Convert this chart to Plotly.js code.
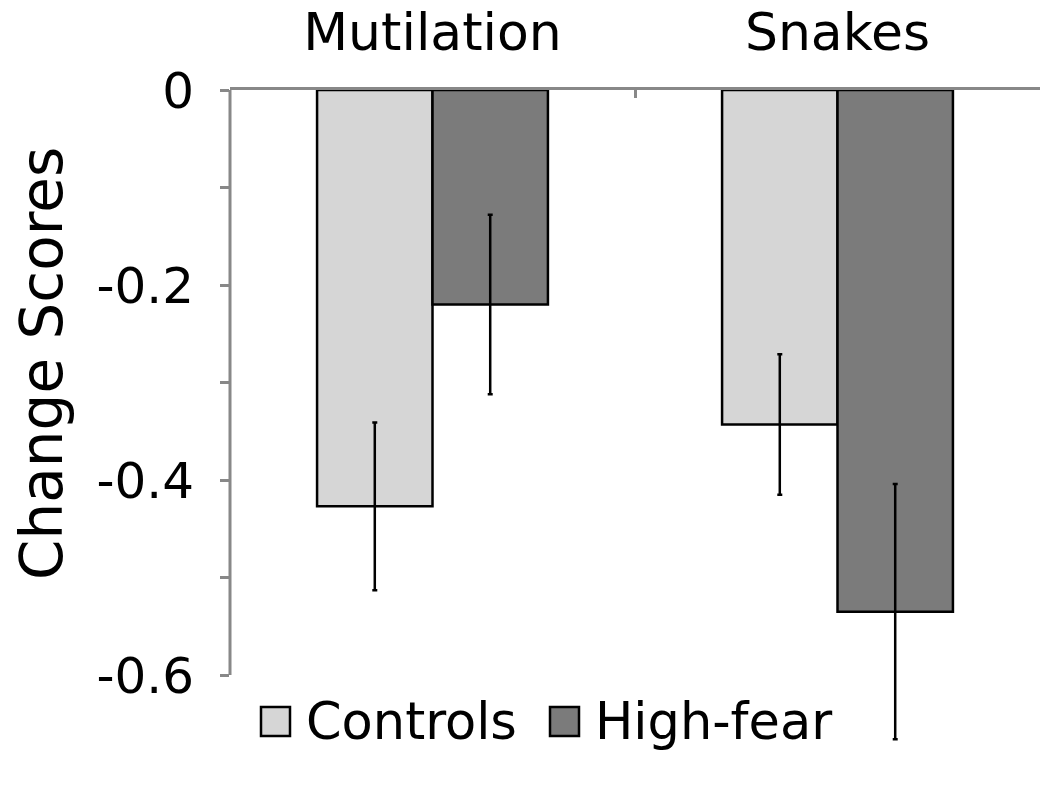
<!DOCTYPE html>
<html>
<head>
<meta charset="utf-8">
<script src="https://cdn.plot.ly/plotly-3.0.1.min.js"></script>
<style>html,body{margin:0;padding:0;background:#fff;}#chart{width:1050px;height:790px;}</style>
</head>
<body>
<div id="chart"></div>
<script>
const categories = ['Mutilation', 'Snakes'];
const seriesNames = ['Controls', 'High-fear'];
const controlsValues = [-0.427, -0.343];
const highFearValues = [-0.220, -0.535];
const controlsErrors = [0.086, 0.072];
const highFearErrors = [0.092, 0.131];
const yTickValues = [0, -0.1, -0.2, -0.3, -0.4, -0.5, -0.6];
const yTickLabels = ['0', '', '-0.2', '', '-0.4', '', '-0.6'];
const yTitle = 'Change Scores';
const seriesColors = ['#d6d6d6', '#7b7b7b'];

const W = 1050, H = 790;
const M = {l: 230, r: 10, t: 90, b: 37};
const axisGray = '#888888';
const FONT = 'DejaVu Sans, sans-serif';

function px2paperX(px) { return (px - M.l) / (W - M.l - M.r); }
function px2paperY(py) { return (H - M.b - py) / (H - M.t - M.b); }

function barTrace(name, vals, errs, color) {
  return {
    type: 'bar', name: name, x: categories, y: vals,
    marker: {color: color, line: {color: '#000', width: 2.5}},
    error_y: {type: 'data', array: errs, visible: true, color: '#000', thickness: 2.5, width: 2.5},
    showlegend: false
  };
}

const data = [
  barTrace(seriesNames[0], controlsValues, controlsErrors, seriesColors[0]),
  barTrace(seriesNames[1], highFearValues, highFearErrors, seriesColors[1])
];

// manual legend
const legendSquares = [[261, 290], [550, 579]];
const legendTextX = [304, 593];
const shapes = [
  {type: 'line', xref: 'paper', yref: 'y', x0: 0, x1: 0, y0: 0, y1: -0.6,
   line: {color: axisGray, width: 3}, layer: 'above'}
];
const annotations = [];
seriesNames.forEach((n, i) => {
  shapes.push({type: 'rect', xref: 'paper', yref: 'paper',
    x0: px2paperX(legendSquares[i][0]), x1: px2paperX(legendSquares[i][1]),
    y0: px2paperY(736), y1: px2paperY(707),
    fillcolor: seriesColors[i], line: {color: '#000', width: 2.5}});
  annotations.push({xref: 'paper', yref: 'paper', x: px2paperX(legendTextX[i]), y: px2paperY(721),
    xanchor: 'left', yanchor: 'middle', showarrow: false, text: n,
    font: {family: FONT, size: 51, color: '#000'}});
});
annotations.push({xref: 'paper', yref: 'paper', x: px2paperX(42), y: px2paperY(364),
  xanchor: 'center', yanchor: 'middle', textangle: -90, showarrow: false, text: yTitle,
  font: {family: FONT, size: 58, color: '#000'}});

const layout = {
  width: W, height: H,
  margin: M,
  paper_bgcolor: '#fff', plot_bgcolor: '#fff',
  barmode: 'group', bargap: 0.43, bargroupgap: 0,
  font: {family: FONT, size: 50, color: '#000'},
  xaxis: {
    type: 'category', side: 'top', showline: true, linecolor: axisGray, linewidth: 3,
    ticks: 'inside', tickson: 'boundaries', ticklen: 8, tickwidth: 3, tickcolor: axisGray,
    showgrid: false, zeroline: false,
    tickfont: {family: FONT, size: 52, color: '#000'}, ticklabelstandoff: 16
  },
  yaxis: {
    range: [-0.68, 0], showline: false, zeroline: false, showgrid: false,
    tickmode: 'array', tickvals: yTickValues, ticktext: yTickLabels,
    ticks: 'outside', ticklen: 9, tickwidth: 3, tickcolor: axisGray,
    tickfont: {family: FONT, size: 50, color: '#000'}, ticklabelstandoff: 16
  },
  shapes: shapes,
  annotations: annotations
};

Plotly.newPlot('chart', data, layout, {displayModeBar: false, staticPlot: true});
</script>
</body>
</html>
